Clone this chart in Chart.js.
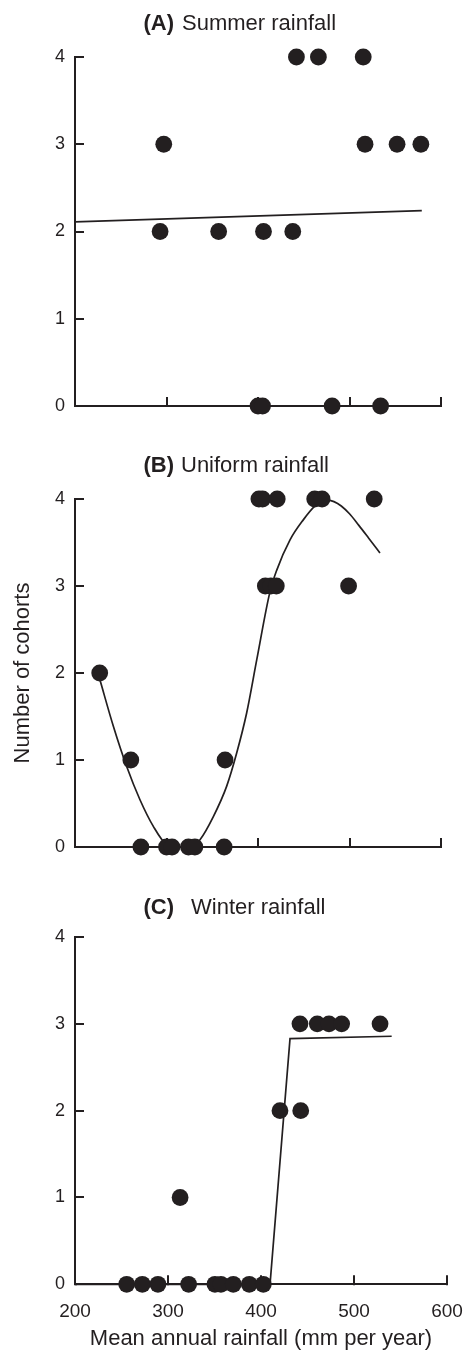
<!DOCTYPE html>
<html>
<head>
<meta charset="utf-8">
<script src="https://cdn.jsdelivr.net/npm/chart.js@4.4.1/dist/chart.umd.min.js"></script>
<style>
  html, body { margin: 0; padding: 0; background: #ffffff; }
  #wrap { position: relative; width: 464px; height: 1352px; background: #ffffff; }
  canvas { position: absolute; left: 0; }
</style>
</head>
<body>
<div id="wrap">
  <canvas id="cA" width="464" height="440" style="top:0px"></canvas>
  <canvas id="cB" width="464" height="445" style="top:440px"></canvas>
  <canvas id="cC" width="464" height="467" style="top:885px"></canvas>
</div>
<script>
// ---------- data ----------
const xTickValues = [200, 300, 400, 500, 600];
const yTickValues = [0, 1, 2, 3, 4];

const panelTags   = ['(A)', '(B)', '(C)'];
const panelTitles = ['Summer rainfall', 'Uniform rainfall', 'Winter rainfall'];
const xAxisTitle = 'Mean annual rainfall (mm per year)';
const yAxisTitle = 'Number of cohorts';

// (A) Summer rainfall
const summerX = [293, 297, 357, 406, 438, 442, 466, 515, 517, 552, 578, 400, 405, 481, 534];
const summerY = [2,   3,   2,   2,   2,   4,   4,   4,   3,   3,   3,   0,   0,   0,   0];
const summerFitX = [200, 579];
const summerFitY = [2.11, 2.24];

// (B) Uniform rainfall
const uniformX = [227, 261, 272, 300, 306, 324, 331, 363, 364, 401, 405, 421, 462, 470, 527, 408, 414, 420, 499];
const uniformY = [2,   1,   0,   0,   0,   0,   0,   0,   1,   4,   4,   4,   4,   4,   4,   3,   3,   3,   3];
const uniformFitX = [227, 242, 256.5, 271, 285.6, 300, 314, 322, 329, 336.6, 351.2, 365.8, 376.7, 387.6, 398.6, 413, 420.4, 435, 449.5, 462.3, 470, 475, 483, 491, 500, 510, 521, 533.3];
const uniformFitY = [1.93, 1.385, 0.925, 0.543, 0.237, 0.03, 0.0, 0.0, 0.02, 0.084, 0.35, 0.70, 1.08, 1.54, 2.15, 2.93, 3.18, 3.53, 3.76, 3.92, 3.975, 3.99, 3.97, 3.92, 3.83, 3.70, 3.55, 3.38];

// (C) Winter rainfall
const winterX = [255.6, 272.4, 289.2, 322.2, 350.5, 356.9, 370.2, 387.4, 402.5, 313, 420.4, 442.7, 441.9, 460.5, 473.1, 486.7, 528];
const winterY = [0,     0,     0,     0,     0,     0,     0,     0,     0,     1,   2,     2,     3,     3,     3,     3,     3];
const winterFitX = [200, 409.7, 431.2, 540.5];
const winterFitY = [0, 0, 2.83, 2.857];

// ---------- helpers ----------
const INK = '#231f20';
const FONT = '"Liberation Sans", Arial, Helvetica, sans-serif';
const toPts = (xs, ys) => xs.map((x, i) => ({ x: x, y: ys[i] }));

const panelTitlePlugin = {
  id: 'panelTitle',
  afterDraw(chart, args, opts) {
    const ctx = chart.ctx;
    ctx.save();
    ctx.fillStyle = INK;
    ctx.textBaseline = 'alphabetic';
    ctx.textAlign = 'left';
    ctx.font = 'bold 22px ' + FONT;
    ctx.fillText(opts.tag, opts.tagX, opts.baseline);
    ctx.font = '22px ' + FONT;
    ctx.fillText(opts.text, opts.textX, opts.baseline);
    ctx.restore();
  }
};

const innerTicksPlugin = {
  id: 'innerTicks',
  beforeDatasetsDraw(chart) {
    const ctx = chart.ctx;
    const xs = chart.scales.x, ys = chart.scales.y;
    const left = chart.chartArea.left, bottom = chart.chartArea.bottom;
    ctx.save();
    ctx.strokeStyle = INK;
    ctx.lineWidth = 2;
    ctx.beginPath();
    ys.ticks.forEach(t => {
      if (t.value === ys.min) return;
      const y = Math.round(ys.getPixelForValue(t.value));
      ctx.moveTo(left - 1, y);
      ctx.lineTo(left + 9, y);
    });
    xs.ticks.forEach(t => {
      if (t.value === xs.min) return;
      const x = Math.round(xs.getPixelForValue(t.value));
      ctx.moveTo(x, bottom + 1);
      ctx.lineTo(x, bottom - 9);
    });
    // close the corner
    ctx.moveTo(left - 1, bottom);
    ctx.lineTo(left + 2, bottom);
    ctx.stroke();
    ctx.restore();
  }
};

function makePanel(canvasId, idx, pts, fit, cfg) {
  const ctx = document.getElementById(canvasId).getContext('2d');
  return new Chart(ctx, {
    type: 'scatter',
    data: {
      datasets: [
        {
          data: pts,
          backgroundColor: INK,
          borderColor: INK,
          borderWidth: 0,
          pointRadius: 8.4,
          pointHoverRadius: 8.4,
          clip: false
        },
        {
          type: 'line',
          data: fit,
          showLine: true,
          borderColor: INK,
          borderWidth: 1.7,
          pointRadius: 0,
          fill: false,
          tension: cfg.smooth ? 0.4 : 0,
          cubicInterpolationMode: cfg.smooth ? 'monotone' : 'default',
          clip: false
        }
      ]
    },
    options: {
      responsive: false,
      animation: false,
      events: [],
      layout: { padding: cfg.padding },
      plugins: {
        legend: { display: false },
        tooltip: { enabled: false },
        panelTitle: { tag: panelTags[idx], text: panelTitles[idx], tagX: 143.5, textX: cfg.textX, baseline: cfg.baseline }
      },
      scales: {
        x: {
          type: 'linear',
          position: 'bottom',
          min: xTickValues[0],
          max: xTickValues[xTickValues.length - 1],
          afterBuildTicks: s => { s.ticks = xTickValues.map(v => ({ value: v })); },
          grid: { display: false, drawTicks: false },
          border: { display: true, color: INK, width: 2 },
          ticks: {
            display: cfg.xLabels,
            color: INK,
            padding: 16,
            maxRotation: 0,
            font: { family: FONT, size: 19 }
          },
          title: {
            display: cfg.xLabels,
            text: xAxisTitle,
            color: INK,
            padding: { top: 0, bottom: 0 },
            font: { family: FONT, size: 22, lineHeight: 1.2 }
          },
          afterFit: s => { s.height = cfg.xHeight; s.paddingLeft = 0; s.paddingRight = 0; }
        },
        y: {
          type: 'linear',
          position: 'left',
          min: yTickValues[0],
          max: yTickValues[yTickValues.length - 1],
          afterBuildTicks: s => { s.ticks = yTickValues.map(v => ({ value: v })); },
          grid: { display: false, drawTicks: false },
          border: { display: true, color: INK, width: 2 },
          ticks: {
            color: INK,
            padding: 10,
            font: { family: FONT, size: 18 }
          },
          title: {
            display: cfg.yTitle,
            text: yAxisTitle,
            color: INK,
            padding: { top: 10, bottom: 0 },
            font: { family: FONT, size: 22, lineHeight: 1.2 }
          },
          afterFit: s => { s.width = 75; }
        }
      }
    },
    plugins: [panelTitlePlugin, innerTicksPlugin]
  });
}

makePanel('cA', 0, toPts(summerX, summerY), toPts(summerFitX, summerFitY), {
  padding: { top: 57, bottom: 34, left: 0, right: 23 },
  xHeight: 0, xLabels: false, yTitle: false, smooth: false,
  textX: 182, baseline: 30
});
makePanel('cB', 1, toPts(uniformX, uniformY), toPts(uniformFitX, uniformFitY), {
  padding: { top: 59, bottom: 38, left: 0, right: 23 },
  xHeight: 0, xLabels: false, yTitle: true, smooth: true,
  textX: 181, baseline: 31.7
});
makePanel('cC', 2, toPts(winterX, winterY), toPts(winterFitX, winterFitY), {
  padding: { top: 52, bottom: 0, left: 0, right: 17 },
  xHeight: 67.7, xLabels: true, yTitle: false, smooth: false,
  textX: 191, baseline: 29
});
</script>
</body>
</html>
